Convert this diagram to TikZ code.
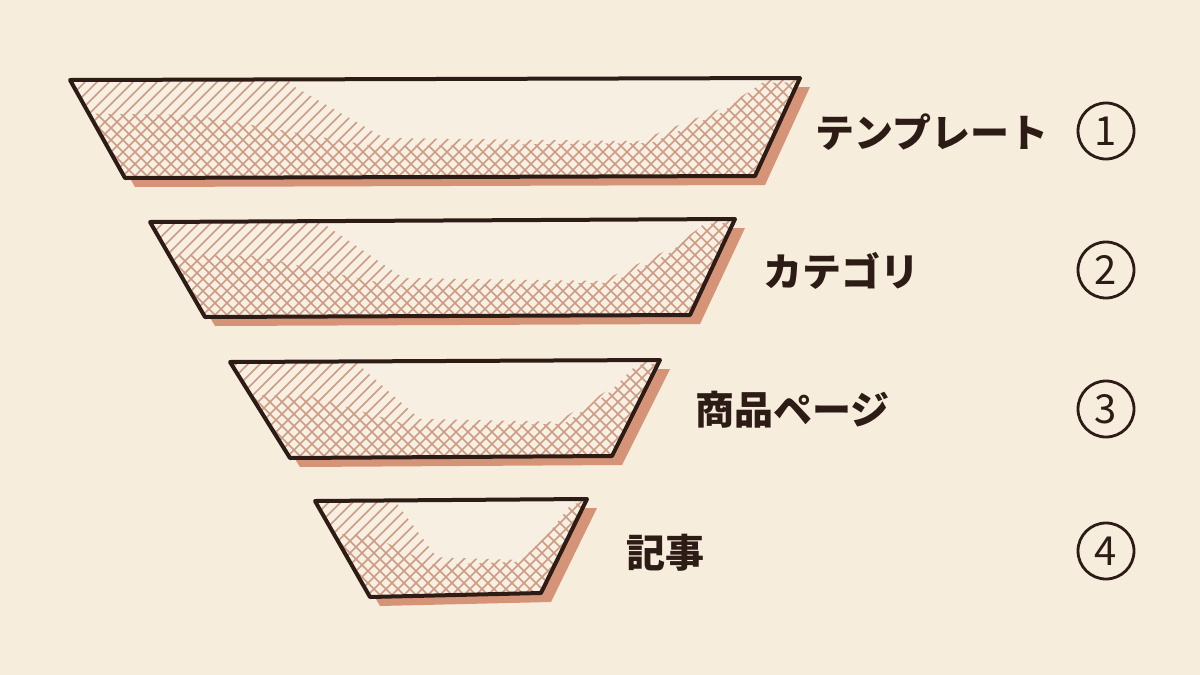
\documentclass[tikz,border=0pt]{standalone}
\usepackage{fontspec}
\newfontfamily\jpfont{Noto Sans CJK JP}
\usetikzlibrary{calc}

\definecolor{paper}{RGB}{246,237,220}
\definecolor{bandfill}{RGB}{247,240,226}
\definecolor{ink}{RGB}{45,27,21}
\definecolor{rust}{RGB}{213,148,119}
\definecolor{hatchred}{RGB}{206,156,132}

\tikzset{
	outline/.style={draw=ink, line width=2pt, line join=round},
	hatchline/.style={draw=hatchred, line width=0.8pt},
	tagtext/.style={anchor=west, inner sep=0pt, text=ink, font=\jpfont\bfseries\fontsize{19.5pt}{24pt}\selectfont},
	numring/.style={circle, draw=ink, line width=1.4pt, minimum size=28pt, inner sep=0pt, text=ink, font=\jpfont\fontsize{20pt}{24pt}\selectfont}
}

% point in a band: u across, v down
\newcommand{\uv}[2]{($($(tl)!#1!(tr)$)!#2!($(bl)!#1!(br)$)$)}

% one band of the funnel
\newcommand{\funnelband}[5]{%
	\coordinate (tl) at (#1); \coordinate (tr) at (#2);
	\coordinate (br) at (#3); \coordinate (bl) at (#4);
	% shadow
	\fill[rust] ([shift={(10,9)}]tl) -- ([shift={(10,9)}]tr) -- ([shift={(10,9)}]br) -- ([shift={(10,9)}]bl) -- cycle;
	\fill[bandfill] (tl) -- (tr) -- (br) -- (bl) -- cycle;
	% hatching
	\begin{scope}
		\clip (tl) -- (tr) -- (br) -- (bl) -- cycle;
		\begin{scope}
			\clip \uv{-0.2}{-0.1} -- \uv{0.3}{-0.1} -- \uv{0.3}{0.05} -- \uv{0.42}{0.6} -- \uv{0.8}{0.64} -- \uv{0.91}{0.3} -- \uv{0.96}{0.0} -- \uv{0.96}{-0.1} -- \uv{1.2}{-0.1} -- \uv{1.2}{1.2} -- \uv{-0.2}{1.2} -- cycle;
			\foreach \k in {-170,-158,...,#5} \draw[hatchline] ($(bl)+(\k,10)$) -- ++(150,-150);
		\end{scope}
		\begin{scope}
			\clip \uv{-0.2}{0.32} -- \uv{0.15}{0.36} -- \uv{0.4}{0.68} -- \uv{0.82}{0.66} -- \uv{0.91}{0.35} -- \uv{0.95}{0.05} -- \uv{1.2}{0.0} -- \uv{1.2}{1.2} -- \uv{-0.2}{1.2} -- cycle;
			\foreach \k in {-170,-158,...,#5} \draw[hatchline] ($(bl)+(\k,10)$) -- ++(-150,-150);
		\end{scope}
	\end{scope}
	\draw[outline] (tl) -- (tr) -- (br) -- (bl) -- cycle;
}

\begin{document}
\begin{tikzpicture}[x=0.5pt,y=-0.5pt]

	% paper
	\fill[paper] (0,0) rectangle (1200,675);
	\useasboundingbox (0,0) rectangle (1200,675);

	% bands
	\funnelband{70,80}{800,78}{755,176}{125,178}{790}
	\funnelband{150,222}{735,219}{690,315}{205,317}{640}
	\funnelband{230,362}{660,360}{612,456}{290,458}{480}
	\funnelband{315,501}{587,499}{541,593}{370,597}{330}

	% labels
	\node[tagtext] (tmpl) at (815,132) {テンプレート};
	\node[tagtext] (cat) at (763,271) {カテゴリ};
	\node[tagtext] (prod) at (695,410) {商品ページ};
	\node[tagtext] (post) at (626,553) {記事};

	% numbers
	\node[numring] (num1) at (1106,131) {1};
	\node[numring] (num2) at (1106,270) {2};
	\node[numring] (num3) at (1106,409) {3};
	\node[numring] (num4) at (1106,551) {4};

\end{tikzpicture}
\end{document}
